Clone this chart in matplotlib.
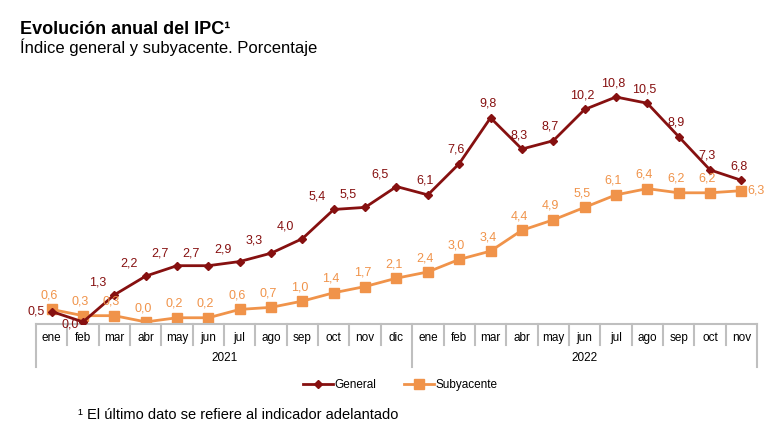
import matplotlib.pyplot as plt
import matplotlib.transforms as mtransforms
from matplotlib.lines import Line2D

plt.rcParams['font.family'] = ['Liberation Sans', 'DejaVu Sans']

months = ['ene', 'feb', 'mar', 'abr', 'may', 'jun', 'jul', 'ago', 'sep', 'oct', 'nov', 'dic',
          'ene', 'feb', 'mar', 'abr', 'may', 'jun', 'jul', 'ago', 'sep', 'oct', 'nov']
years = ['2021', '2022']
general = [0.5, 0.0, 1.3, 2.2, 2.7, 2.7, 2.9, 3.3, 4.0, 5.4, 5.5, 6.5,
           6.1, 7.6, 9.8, 8.3, 8.7, 10.2, 10.8, 10.5, 8.9, 7.3, 6.8]
subyacente = [0.6, 0.3, 0.3, 0.0, 0.2, 0.2, 0.6, 0.7, 1.0, 1.4, 1.7, 2.1,
              2.4, 3.0, 3.4, 4.4, 4.9, 5.5, 6.1, 6.4, 6.2, 6.2, 6.3]

c_gen = '#861010'
c_sub = '#f0934a'
c_grid = '#bfbfbf'

fig = plt.figure(figsize=(7.77, 4.42), dpi=100)
ax = fig.add_axes([36 / 777, 1 - 324 / 442, 721 / 777, 252 / 442])

x = list(range(len(months)))
ax.plot(x, general, color=c_gen, lw=2, marker='D', ms=4.5, zorder=3)
ax.plot(x, subyacente, color=c_sub, lw=2, marker='s', ms=6.5, zorder=2)

ax.set_xlim(-0.5, len(months) - 0.5)
ax.set_ylim(-0.1, 12.0)
ax.set_xticks([])
ax.set_yticks([])
for s in ['top', 'left', 'right']:
    ax.spines[s].set_visible(False)
ax.spines['bottom'].set_color(c_grid)
ax.spines['bottom'].set_linewidth(1.5)


def fmt(v):
    return f'{v:.1f}'.replace('.', ',')


# data labels (offsets in points)
for i, v in enumerate(general):
    if i == 0:
        off, ha = (-5, 0), 'right'
    elif i == 1:
        off, ha = (-3, -2), 'right'
    elif i < 12:
        off, ha = (-6, 9), 'right'
    else:
        off, ha = (-2, 10), 'center'
    ax.annotate(fmt(v), (i, v), xytext=off, textcoords='offset points',
                ha=ha, va='center', fontsize=9, color=c_gen, zorder=4)

for i, v in enumerate(subyacente):
    if i == len(subyacente) - 1:
        off, ha = (4, 0), 'left'
    else:
        off, ha = (-2, 10), 'center'
    ax.annotate(fmt(v), (i, v), xytext=off, textcoords='offset points',
                ha=ha, va='center', fontsize=9, color=c_sub)

# category axis
trans = mtransforms.blended_transform_factory(ax.transData, ax.transAxes)
for i, m in enumerate(months):
    ax.text(i, -0.055, m, transform=trans, ha='center', va='center', fontsize=8.5)
for b in range(len(months) + 1):
    bottom = -0.171 if b in (0, 12, len(months)) else -0.083
    ax.plot([b - 0.5, b - 0.5], [0, bottom], transform=trans, color=c_grid,
            lw=1.5, clip_on=False)
ax.text(5.5, -0.135, years[0], transform=trans, ha='center', va='center', fontsize=8.5)
ax.text(17.0, -0.135, years[1], transform=trans, ha='center', va='center', fontsize=8.5)

handles = [Line2D([], [], color=c_gen, lw=2, marker='D', ms=4.5),
           Line2D([], [], color=c_sub, lw=2, marker='s', ms=6.5)]
fig.legend(handles, ['General', 'Subyacente'], loc='center', bbox_to_anchor=(400 / 777, 1 - 385 / 442),
           ncol=2, frameon=False, fontsize=8.5, handlelength=2.6, handletextpad=0.1, columnspacing=2.3)

fig.text(20 / 777, 1 - 29 / 442, 'Evolución anual del IPC¹', fontsize=13, fontweight='bold',
         va='center', ha='left')
fig.text(20 / 777, 1 - 47 / 442, 'Índice general y subyacente. Porcentaje', fontsize=12,
         va='center', ha='left')
fig.text(78 / 777, 1 - 415 / 442, '¹ El último dato se refiere al indicador adelantado', fontsize=10.5,
         va='center', ha='left')

fig.savefig('out.png', dpi=100)
